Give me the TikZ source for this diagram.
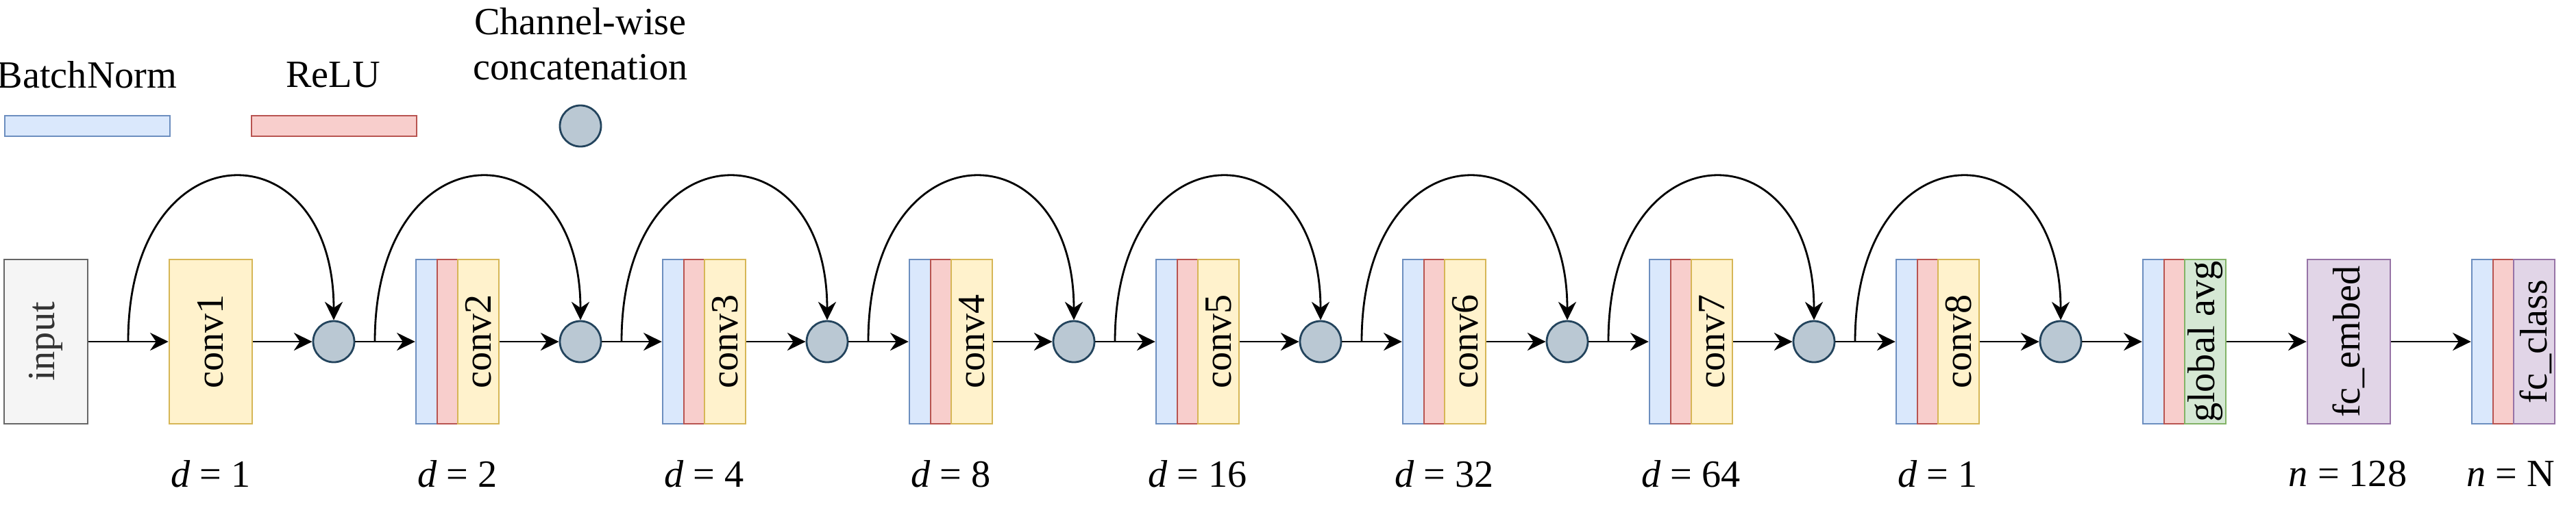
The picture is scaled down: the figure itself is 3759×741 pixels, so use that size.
\documentclass[tikz,border=0pt]{standalone}
\usepackage{fontspec}
\setmainfont{Liberation Serif}
\usetikzlibrary{arrows.meta}
\definecolor{bnfill}{HTML}{DAE8FC}
\definecolor{bndraw}{HTML}{6C8EBF}
\definecolor{relufill}{HTML}{F8CECC}
\definecolor{reludraw}{HTML}{B85450}
\definecolor{convfill}{HTML}{FFF2CC}
\definecolor{convdraw}{HTML}{D6B656}
\definecolor{avgfill}{HTML}{D5E8D4}
\definecolor{avgdraw}{HTML}{82B366}
\definecolor{fcfill}{HTML}{E1D5E7}
\definecolor{fcdraw}{HTML}{9673A6}
\definecolor{infill}{HTML}{F5F5F5}
\definecolor{indraw}{HTML}{666666}
\definecolor{catfill}{HTML}{BAC8D3}
\definecolor{catdraw}{HTML}{23445D}
\tikzset{
  txt/.style={font=\fontsize{16}{19}\selectfont, inner sep=0pt},
  blk/.style={draw, line width=0.7pt, minimum height=2.4cm, inner sep=0pt},
  bn/.style={blk, fill=bnfill, draw=bndraw, minimum width=0.31cm},
  relu/.style={blk, fill=relufill, draw=reludraw, minimum width=0.30cm},
  conv/.style={blk, fill=convfill, draw=convdraw, minimum width=0.60cm},
  cat/.style={circle, draw=catdraw, fill=catfill, line width=0.8pt, minimum size=0.6cm, inner sep=0pt},
  flow/.style={line width=0.8pt, -{Stealth[length=7.6pt,width=7.4pt,inset=2.5pt]}}
}
\begin{document}
\begin{tikzpicture}[x=0.01cm, y=-0.01cm]
\useasboundingbox (0,0) rectangle (3759,741);
% legend
\node[txt] (lgbntext) at (127,109) {BatchNorm};
\node[txt] (lgrelutext) at (486,109) {ReLU};
\node[txt, align=center, font=\fontsize{16}{18.8}\selectfont] (lgcattext) at (847,64) {Channel-wise\\concatenation};
\node[bn, minimum width=2.41cm, minimum height=0.30cm] (lgbn) at (127.5,184) {};
\node[relu, minimum width=2.41cm, minimum height=0.30cm] (lgrelu) at (487.5,184) {};
\node[cat] (lgcat) at (847,184) {};
% input and first conv
\node[blk, fill=infill, draw=indraw, minimum width=1.22cm] (input) at (67,499) {};
\node[txt, rotate=90, text=black!80] (inputtext) at (input) {input};
\node[conv, minimum width=1.21cm] (conv1) at (307.5,499) {};
\node[txt, rotate=90] (conv1text) at (conv1) {conv1};
\node[cat] (c1) at (487,499) {};
\node[txt] (d1) at (307.5,692) {\textit{d} = 1};
\coordinate (s1) at (187,499);
\draw[flow] (input.east) -- (conv1.west);
\draw[flow] (conv1.east) -- (c1.west);
\draw[flow] (s1) .. controls +(0,-315) and +(0,-285) .. (c1.north);
% dilated conv blocks
\foreach \k/\d [count=\i from 1] in {2/2,3/4,4/8,5/16,6/32,7/64,8/1} {
  \pgfmathsetmacro{\xo}{247+360*(\k-1)}
  \node[bn] (bn\k) at (\xo+15.5,499) {};
  \node[relu] (relu\k) at (\xo+46,499) {};
  \node[conv] (conv\k) at (\xo+91,499) {};
  \node[txt, rotate=90] (conv\k text) at (conv\k) {conv\k};
  \node[cat] (c\k) at (\xo+240,499) {};
  \node[txt] (d\k) at (\xo+60.5,692) {\textit{d} = \d};
  \coordinate (s\k) at (\xo-60,499);
  \draw[flow] (c\i.east) -- (bn\k.west);
  \draw[flow] (conv\k.east) -- (c\k.west);
  \draw[flow] (s\k) .. controls +(0,-315) and +(0,-285) .. (c\k.north);
}
% head
\node[bn] (bng) at (3142.5,499) {};
\node[relu] (relug) at (3173,499) {};
\node[blk, fill=avgfill, draw=avgdraw, minimum width=0.60cm] (gavg) at (3218,499) {};
\node[txt, rotate=90] (gavgtext) at (gavg) {global avg};
\node[blk, fill=fcfill, draw=fcdraw, minimum width=1.21cm] (fce) at (3427.5,499) {};
\node[txt, rotate=90] (fcetext) at (fce) {fc\_embed};
\node[bn] (bnf) at (3622.5,499) {};
\node[relu] (reluf) at (3653,499) {};
\node[blk, fill=fcfill, draw=fcdraw, minimum width=0.60cm] (fcc) at (3698,499) {};
\begin{scope}
\clip (fcc.south west) rectangle (fcc.north east);
\node[txt, rotate=90] (fcctext) at (3700,499) {fc\_class};
\end{scope}
\node[txt] (ne) at (3426,692) {\textit{n} = 128};
\node[txt] (nc) at (3664,692) {\textit{n} = N};
\draw[flow] (c8.east) -- (bng.west);
\draw[flow] (gavg.east) -- (fce.west);
\draw[flow] (fce.east) -- (bnf.west);
\end{tikzpicture}
\end{document}
